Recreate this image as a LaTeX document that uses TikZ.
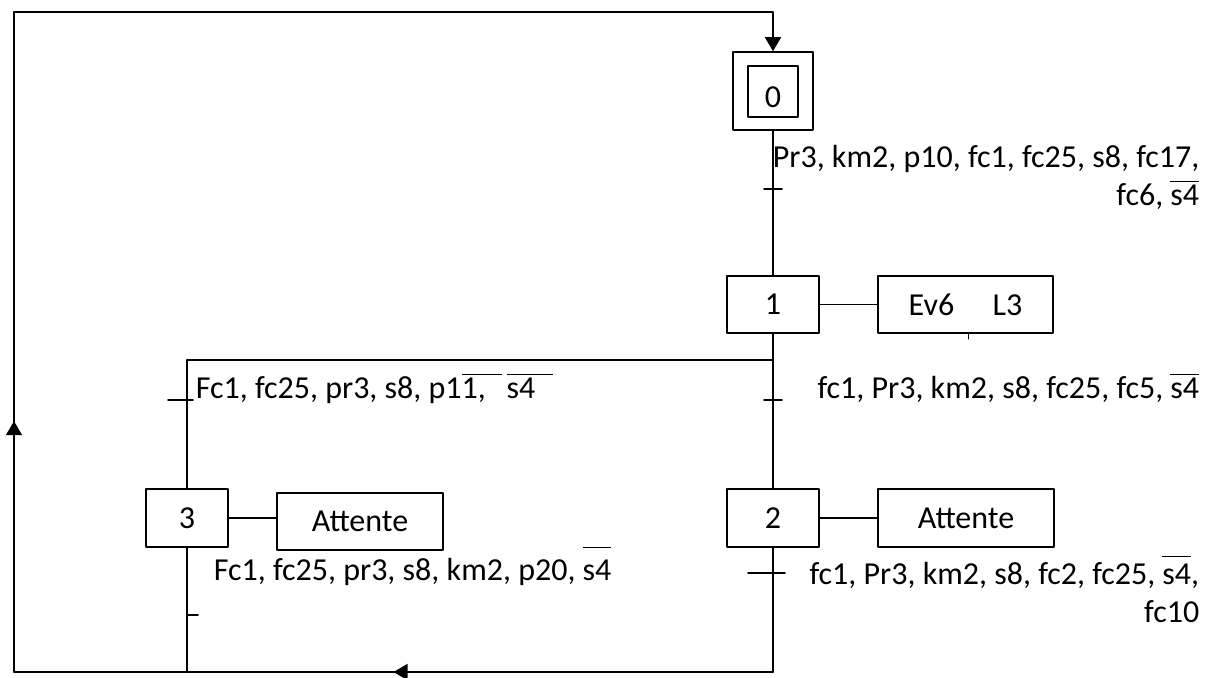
\documentclass[tikz,border=0pt]{standalone}
\usepackage{fontspec}
\setmainfont{Carlito}
\usetikzlibrary{arrows.meta,decorations.markings}
\newcommand{\barre}[2][0pt]{$\overline{\mbox{#2\rule{0pt}{\dimexpr 0.64em+#1\relax}}}$}

\begin{document}
\begin{tikzpicture}[x=0.5pt,y=-0.5pt,
				line join = round,line cap = round,line width=0.8pt,>={Triangle[length=7pt,width=8pt]},
				font=\fontsize{16}{19}\selectfont,
				etape/.style={rectangle,draw,minimum width=46pt,minimum height=28.5pt,inner sep=0pt},
				action/.style={rectangle,draw,minimum width=88pt,minimum height=29pt,inner sep=0pt},
				recep/.style={inner sep=0pt,align=right},
				fleche/.style={postaction={decorate},decoration={markings,mark=at position #1 with {\arrow{>}}}}]
				\useasboundingbox (0,0) rectangle (1217,677);
				\node at (773,91) (nodeE0x) [etape,minimum width=40pt,minimum height=39pt] {};
				\node at (773,91.5) (nodeE0) [etape,minimum width=25pt,minimum height=25.5pt,text height=16pt] {0};
				\node at (773,304.5) (nodeE1) [etape] {1};
				\node at (965.5,304.5) (nodeA1) [action,minimum width=87.5pt,minimum height=28.5pt] {Ev6\hspace{1.2em}L3\hspace{1.1em}};
				\node at (773,518) (nodeE2) [etape,minimum height=29pt] {2};
				\node at (966,518) (nodeA2) [action] {Attente};
				\node at (187,518) (nodeE3) [etape,minimum width=41pt,minimum height=29pt] {3};
				\node at (360,521.5) (nodeA3) [action,minimum width=83pt,minimum height=28.5pt] {Attente};
				\coordinate (hautG) at (14,12);
				\coordinate (hautD) at (773,12);
				\coordinate (basG) at (14,672);
				\coordinate (basD) at (773,672);
				\coordinate (bas3) at (187,672);
				\coordinate (divD) at (773,360);
				\coordinate (divG) at (187,360);
				\coordinate (t01) at (773,189);
				\coordinate (t12) at (773,400);
				\coordinate (t13) at (187,400);
				\coordinate (t20) at (773,573);
				\coordinate (t30) at (187,615);
				\draw (nodeE0x.south) -- (nodeE1.north);
				\draw (nodeE1.south) -- (nodeE2.north);
				\draw (nodeE2.south) -- (basD);
				\draw (divD) -- (divG) -- (nodeE3.north);
				\draw (nodeE3.south) -- (bas3);
				\draw[fleche=0.5] (basD) -- (basG);
				\draw[fleche=0.38] (basG) -- (hautG);
				\draw[->] (hautG) -- (hautD) -- (nodeE0x.north);
				\draw (nodeE1) -- (nodeA1);
				\draw (nodeE2) -- (nodeA2);
				\draw (nodeE3.east) -- (nodeE3.east -| nodeA3.west);
				\draw ([xshift=1.5pt]nodeA1.south) -- +(0,5);
				\draw (t01) +(-9,0) -- +(9,0);
				\draw (t12) +(-9,0) -- +(9,0);
				\draw (t13) +(-19,0) -- +(6,0);
				\draw (t20) +(-25,0) -- +(12,0);
				\draw (t30) +(0,0) -- +(11,0);
				\node at (1200,205) (r01) [recep,anchor=base east] {Pr3, km2, p10, fc1, fc25, s8, fc17,\\ fc6, \barre{s4}};
				\node at (1200,398) (r12) [recep,anchor=base east] {fc1, Pr3, km2, s8, fc25, fc5, \barre{s4}};
				\node at (195,398) (r13) [recep,anchor=base west] {Fc1, fc25, pr3, s8, p1\barre{1,\hspace{.5em}}\hspace{.15em}\barre{s4\hspace{.55em}}};
				\node at (1200,622) (r20) [recep,anchor=base east] {fc1, Pr3, km2, s8, fc2, fc25, \barre[2pt]{s4},\\ fc10};
				\node at (213,580) (r30) [recep,anchor=base west] {Fc1, fc25, pr3, s8, km2, p20, \barre[4.5pt]{s4}};
			\end{tikzpicture}
\end{document}
